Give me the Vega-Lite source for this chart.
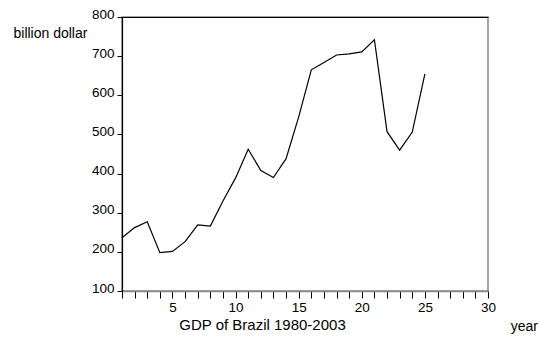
{
  "$schema": "https://vega.github.io/schema/vega-lite/v6.json",
  "width": 366,
  "height": 274,
  "autosize": {"type": "none"},
  "padding": {"left": 122, "top": 17, "right": 51, "bottom": 46},
  "background": "white",
  "config": {"font": "Liberation Sans", "view": {"stroke": "#888", "strokeWidth": 1.5}},
  "title": {"text": "year", "orient": "right", "angle": 0, "anchor": "end", "align": "left", "baseline": "alphabetic", "offset": -12, "dy": 40, "fontSize": 14, "fontWeight": "normal", "color": "#000", "frame": "group"},
  "data": {"values": [
    {"t": 1, "gdp": 236}, {"t": 2, "gdp": 262}, {"t": 3, "gdp": 277}, {"t": 4, "gdp": 198},
    {"t": 5, "gdp": 201}, {"t": 6, "gdp": 226}, {"t": 7, "gdp": 269}, {"t": 8, "gdp": 266},
    {"t": 9, "gdp": 330}, {"t": 10, "gdp": 389}, {"t": 11, "gdp": 462}, {"t": 12, "gdp": 408},
    {"t": 13, "gdp": 390}, {"t": 14, "gdp": 438}, {"t": 15, "gdp": 545}, {"t": 16, "gdp": 665},
    {"t": 17, "gdp": 684}, {"t": 18, "gdp": 703}, {"t": 19, "gdp": 706}, {"t": 20, "gdp": 711},
    {"t": 21, "gdp": 742}, {"t": 22, "gdp": 507}, {"t": 23, "gdp": 460}, {"t": 24, "gdp": 506},
    {"t": 25, "gdp": 655}
  ]},
  "layer": [
    {
      "mark": {"type": "line", "color": "#000", "strokeWidth": 1.2},
      "encoding": {
        "x": {
          "field": "t", "type": "quantitative",
          "scale": {"domain": [1, 30], "nice": false, "zero": false},
          "axis": {
            "values": [1,2,3,4,5,6,7,8,9,10,11,12,13,14,15,16,17,18,19,20,21,22,23,24,25,26,27,28,29,30],
            "labelExpr": "datum.value % 5 === 0 ? datum.label : ''",
            "grid": false, "tickSize": 7, "tickColor": "#000", "tickWidth": 1,
            "domainColor": "#888", "domainWidth": 1.5,
            "labelFontSize": 13.5, "labelPadding": 2, "labelColor": "#000",
            "labelFlush": false, "labelOverlap": false,
            "title": "GDP of Brazil 1980-2003", "titleFontSize": 15, "titleFontWeight": "normal",
            "titleColor": "#000", "titleX": 140, "titleY": 38, "titleAlign": "center", "titleBaseline": "alphabetic",
            "encode": {"ticks": {"update": {"y2": {"signal": "datum.value % 5 === 0 ? 7 : 4"}}}}
          }
        },
        "y": {
          "field": "gdp", "type": "quantitative",
          "scale": {"domain": [100, 800], "nice": false, "zero": false},
          "axis": {
            "values": [100, 200, 300, 400, 500, 600, 700, 800],
            "grid": false, "tickSize": 5, "tickColor": "#000", "tickWidth": 1,
            "domainColor": "#000", "domainWidth": 1.2,
            "labelFontSize": 13.5, "labelPadding": 3, "labelColor": "#000", "labelOffset": -3,
            "labelFlush": false, "labelOverlap": false, "labelBound": false,
            "title": "billion dollar", "titleFontSize": 14, "titleFontWeight": "normal", "titleColor": "#000",
            "titleAngle": 0, "titleX": -109, "titleY": 20, "titleAlign": "left", "titleBaseline": "alphabetic"
          }
        }
      }
    },
    {
      "mark": {"type": "line", "opacity": 0},
      "encoding": {
        "x": {
          "field": "t", "type": "quantitative",
          "scale": {"domain": [1, 30], "nice": false, "zero": false},
          "axis": {"orient": "top", "labels": false, "ticks": false, "title": null, "grid": false, "domainColor": "#000", "domainWidth": 1.2}
        },
        "y": {"field": "gdp", "type": "quantitative", "scale": {"domain": [100, 800], "nice": false, "zero": false}, "axis": null}
      }
    }
  ],
  "resolve": {"axis": {"x": "independent", "y": "independent"}}
}
